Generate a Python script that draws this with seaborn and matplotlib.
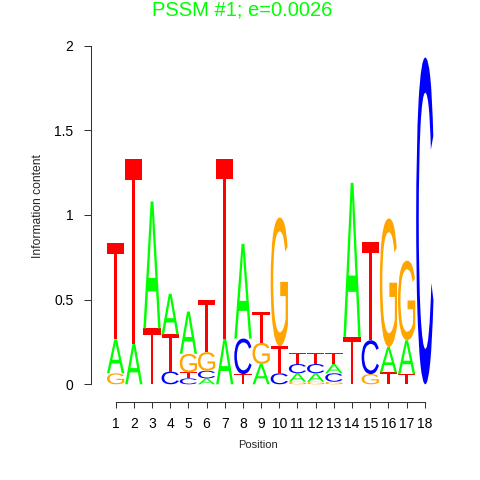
import matplotlib
import matplotlib.pyplot as plt
import seaborn as sns
from matplotlib.textpath import TextPath
from matplotlib.font_manager import FontProperties
from matplotlib.patches import PathPatch
from matplotlib.transforms import Affine2D

matplotlib.use("Agg")

# information content (bits) of each base at each motif position
positions = list(range(1, 19))
a_bits = [0.20, 0.24, 0.75, 0.24, 0.25, 0.035, 0.27, 0.56, 0.12,
          0.0, 0.05, 0.05, 0.055, 0.91, 0.0, 0.15, 0.20, 0.0]
c_bits = [0.0, 0.0, 0.0, 0.075, 0.035, 0.045, 0.0, 0.21, 0.0,
          0.065, 0.055, 0.055, 0.05, 0.0, 0.20, 0.0, 0.0, 1.93]
g_bits = [0.065, 0.0, 0.0, 0.0, 0.11, 0.11, 0.0, 0.0, 0.125,
          0.76, 0.015, 0.015, 0.015, 0.0, 0.06, 0.76, 0.47, 0.0]
t_bits = [0.57, 1.09, 0.33, 0.22, 0.035, 0.31, 1.06, 0.06, 0.185,
          0.16, 0.065, 0.065, 0.065, 0.28, 0.58, 0.07, 0.06, 0.0]

y_ticks = [0, 0.5, 1, 1.5, 2]
y_tick_labels = ["0", "0.5", "1", "1.5", "2"]
title_text = "PSSM #1; e=0.0026"

letter_colors = {"A": "#00FF00", "C": "#0000FF", "G": "#FFA500", "T": "#FF0000"}
glyph_font = FontProperties(family="Liberation Sans", weight="normal")


def draw_letter(ax, letter, x, y0, height, width=0.95):
    """Stretch a glyph so it fills the box [x-w/2, x+w/2] x [y0, y0+h]."""
    path = TextPath((0, 0), letter, size=1, prop=glyph_font)
    bb = path.get_extents()
    tr = (Affine2D()
          .translate(-bb.x0, -bb.y0)
          .scale(width / bb.width, height / bb.height)
          .translate(x - width / 2, y0))
    patch = PathPatch(tr.transform_path(path), facecolor=letter_colors[letter],
                      edgecolor="none", clip_on=False)
    ax.add_patch(patch)


def main():
    sns.set_style("ticks")
    plt.rcParams["font.family"] = ["Liberation Sans", "DejaVu Sans"]

    fig = plt.figure(figsize=(4.8, 4.8), dpi=100)
    ax = fig.add_axes([90.7 / 480, 95.7 / 480, 352.3 / 480, 338.6 / 480])

    for i, pos in enumerate(positions):
        stack = [("A", a_bits[i]), ("C", c_bits[i]),
                 ("G", g_bits[i]), ("T", t_bits[i])]
        stack = sorted([s for s in stack if s[1] > 0], key=lambda s: s[1])
        base = 0.0
        for letter, h in stack:
            draw_letter(ax, letter, pos, base, h)
            base += h

    ax.set_xlim(-0.37, 19.0)
    ax.set_ylim(0, 2)
    ax.set_xticks(positions)
    ax.set_xticklabels([str(p) for p in positions], fontsize=7.3)
    ax.set_yticks(y_ticks)
    ax.set_yticklabels(y_tick_labels, fontsize=8.8)
    ax.tick_params(axis="y", direction="out", length=5, width=0.75,
                   pad=7.5, colors="#333333", labelcolor="black")
    ax.tick_params(axis="x", direction="out", length=4.5, width=0.75,
                   pad=6.5, colors="#333333", labelcolor="black")

    sns.despine(ax=ax, offset={"bottom": 12.7})
    ax.spines["left"].set_bounds(0, 2)
    ax.spines["bottom"].set_bounds(1, 18)
    for side in ("left", "bottom"):
        ax.spines[side].set_linewidth(0.75)
        ax.spines[side].set_color("#333333")

    fig.text(242.5 / 480, 1 - 15.5 / 480, title_text, color="#00FF00",
             fontsize=14.5, ha="center", va="baseline")
    fig.text(38.3 / 480, 1 - 206 / 480, "Information content", rotation=90,
             fontsize=8.7, ha="center", va="center")
    fig.text(258 / 480, 1 - 445 / 480, "Position", fontsize=8,
             ha="center", va="center")

    fig.savefig("out.png", dpi=100)


if __name__ == "__main__":
    main()
